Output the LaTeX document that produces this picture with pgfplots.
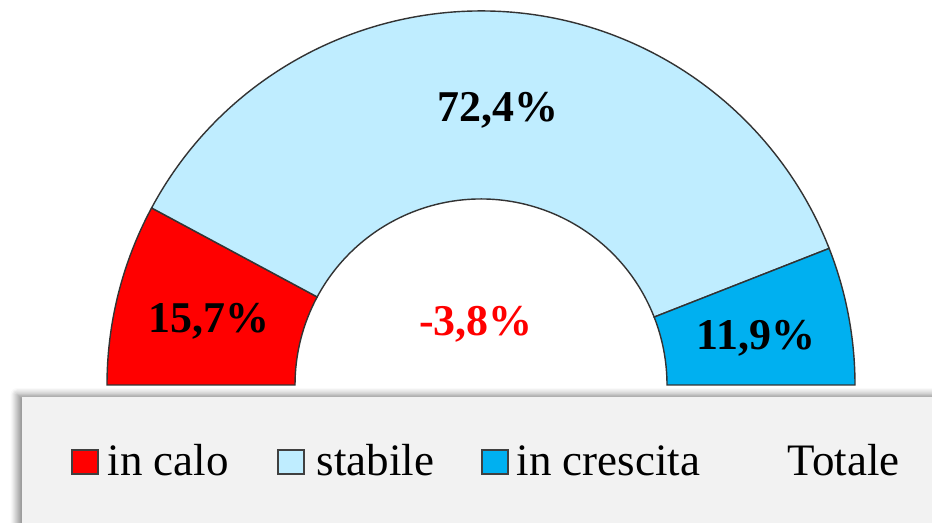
\documentclass[border=0pt]{standalone}
\usepackage{fontspec}
\setmainfont{Liberation Serif}
\usepackage{pgfplots}
\pgfplotsset{compat=1.18}
\usetikzlibrary{shadows.blur}

\definecolor{calo}{HTML}{FF0000}
\definecolor{stabile}{HTML}{BFEDFF}
\definecolor{crescita}{HTML}{00B0F0}
\definecolor{legbg}{HTML}{F2F2F2}

% quote (%) delle tre classi
\def\vCalo{15.7}
\def\vStab{72.4}
\def\vCresc{11.9}
% centro e raggi (cm)
\def\cx{4.81}
\def\cy{1.38}
\def\Rout{3.74}
\def\Rin{1.86}

\pgfmathsetmacro{\aA}{180}
\pgfmathsetmacro{\aB}{\aA-1.8*\vCalo}
\pgfmathsetmacro{\aC}{\aB-1.8*\vStab}
\pgfmathsetmacro{\aD}{\aC-1.8*\vCresc}

\newcommand{\settore}[3]{%
  \filldraw[fill=#1, draw=black!80, line width=0.4pt]
    ([shift={(#2:\Rout cm)}]axis cs:\cx,\cy)
    arc[start angle=#2, end angle=#3, radius=\Rout cm]
    -- ([shift={(#3:\Rin cm)}]axis cs:\cx,\cy)
    arc[start angle=#3, end angle=#2, radius=\Rin cm]
    -- cycle;}

\begin{document}
\begin{tikzpicture}
\begin{axis}[
    x=1cm, y=1cm,
    xmin=0, xmax=9.32,
    ymin=0, ymax=5.23,
    scale only axis,
    hide axis,
    clip=true,
]
\settore{calo}{\aA}{\aB}
\settore{stabile}{\aB}{\aC}
\settore{crescita}{\aC}{\aD}

\node[anchor=base, inner sep=0, font=\fontsize{12.5}{15}\selectfont\bfseries]
  at (axis cs:4.98,4.01) {72,4\%};
\node[anchor=base, inner sep=0, font=\fontsize{12.5}{15}\selectfont\bfseries]
  at (axis cs:2.09,1.90) {15,7\%};
\node[anchor=base, inner sep=0, font=\fontsize{12.5}{15}\selectfont\bfseries]
  at (axis cs:7.56,1.73) {11,9\%};
\node[anchor=base, inner sep=0, text=calo, font=\fontsize{12.5}{15}\selectfont\bfseries]
  at (axis cs:4.76,1.87) {-3,8\%};

% riquadro legenda
\fill[legbg, blur shadow={shadow xshift=-0.5mm, shadow yshift=0.25mm, shadow blur steps=6, shadow opacity=45}]
  (axis cs:0.22,-0.3) rectangle (axis cs:9.6,1.26);
\end{axis}

\begin{scope}[font=\fontsize{12.8}{15}\selectfont]
\filldraw[fill=calo, draw=black!75, line width=0.4pt] (0.72,0.49) rectangle (0.98,0.73);
\node[anchor=base west, inner sep=0] at (1.07,0.47) {in calo};
\filldraw[fill=stabile, draw=black!75, line width=0.4pt] (2.78,0.49) rectangle (3.04,0.73);
\node[anchor=base west, inner sep=0] at (3.16,0.47) {stabile};
\filldraw[fill=crescita, draw=black!75, line width=0.4pt] (4.82,0.49) rectangle (5.08,0.73);
\node[anchor=base west, inner sep=0] at (5.16,0.47) {in crescita};
\node[anchor=base west, inner sep=0] at (7.87,0.47) {Totale};
\end{scope}

\pgfresetboundingbox
\useasboundingbox (0,0) rectangle (9.32,5.23);
\end{tikzpicture}
\end{document}
